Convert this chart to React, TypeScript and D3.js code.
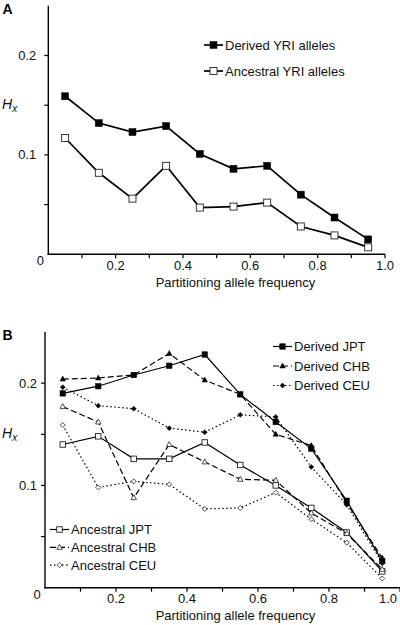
import React from "react";
import * as d3 from "d3";

// ---- Data ----
const xBins = [0.05, 0.15, 0.25, 0.35, 0.45, 0.55, 0.65, 0.75, 0.85, 0.95];
const xTicks = [0.1, 0.2, 0.3, 0.4, 0.5, 0.6, 0.7, 0.8, 0.9, 1.0];
const xTickLabels = ["", "0.2", "", "0.4", "", "0.6", "", "0.8", "", "1.0"];
const yTicks = [0.05, 0.1, 0.15, 0.2];
const yTickLabels = ["", "0.1", "", "0.2"];

// Panel A
const derivedYRI = [0.159, 0.132, 0.123, 0.129, 0.101, 0.086, 0.089, 0.060, 0.037, 0.015];
const ancestralYRI = [0.117, 0.082, 0.056, 0.089, 0.047, 0.048, 0.052, 0.028, 0.019, 0.007];

// Panel B
const derivedJPT = [0.190, 0.197, 0.208, 0.217, 0.228, 0.189, 0.162, 0.136, 0.085, 0.026];
const derivedCHB = [0.204, 0.205, 0.208, 0.229, 0.203, 0.189, 0.150, 0.139, 0.083, 0.029];
const derivedCEU = [0.196, 0.178, 0.175, 0.156, 0.152, 0.169, 0.167, 0.118, 0.081, 0.024];
const ancestralJPT = [0.140, 0.148, 0.126, 0.126, 0.142, 0.120, 0.100, 0.078, 0.054, 0.016];
const ancestralCHB = [0.177, 0.162, 0.088, 0.140, 0.123, 0.106, 0.105, 0.073, 0.053, 0.018];
const ancestralCEU = [0.159, 0.098, 0.104, 0.101, 0.077, 0.078, 0.093, 0.067, 0.044, 0.009];

const FONT = "'Liberation Sans', Arial, sans-serif";

type Marker = "square" | "triangle" | "diamond";

function MarkerShape({ type, x, y, size, filled }: { type: Marker; x: number; y: number; size: number; filled: boolean }) {
  const fill = filled ? "#000" : "#fff";
  const stroke = filled ? "#000" : "#222";
  if (type === "square") {
    return <rect x={x - size / 2} y={y - size / 2} width={size} height={size} fill={fill} stroke={stroke} strokeWidth={filled ? 0.5 : 0.9} />;
  }
  if (type === "triangle") {
    const h = size * 0.9;
    const p = `${x},${y - h * 0.6} ${x + size / 2},${y + h * 0.4} ${x - size / 2},${y + h * 0.4}`;
    return <polygon points={p} fill={fill} stroke={stroke} strokeWidth={filled ? 0.5 : 0.8} />;
  }
  const r = size / 2;
  const p = `${x},${y - r} ${x + r},${y} ${x},${y + r} ${x - r},${y}`;
  return <polygon points={p} fill={fill} stroke={stroke} strokeWidth={filled ? 0.5 : 0.8} />;
}

interface Series {
  name: string;
  values: number[];
  marker: Marker;
  filled: boolean;
  dash: string | undefined;
}

function Panel({
  letter,
  x0, x1, yTop, yBottom,
  series, markerSize, lineWidth,
  legends,
  labelGap,
  lastLabelMax,
}: {
  letter: string;
  x0: number; x1: number; yTop: number; yBottom: number;
  series: Series[];
  markerSize: number;
  lineWidth: number;
  legends: { x: number; y: number; dy: number; items: Series[] }[];
  labelGap: number;
  lastLabelMax: number;
}) {
  const x = d3.scaleLinear().domain([0, 1]).range([x0, x1]);
  const y = d3.scaleLinear().domain([0, 0.25]).range([yBottom, yTop]);
  const line = d3.line<number>().x((_, i) => x(xBins[i])).y((d) => y(d));
  return (
    <g fontFamily={FONT}>
      {/* axes */}
      <line x1={x(0)} x2={x(0)} y1={y(0.25)} y2={y(0) + 0.7} stroke="#000" strokeWidth={1.4} />
      <line x1={x(0) - 0.7} x2={x(1)} y1={y(0)} y2={y(0)} stroke="#000" strokeWidth={1.4} />
      {yTicks.map((t, i) => (
        <g key={"yt" + i}>
          <line x1={x(0) - 4} x2={x(0)} y1={y(t)} y2={y(t)} stroke="#000" strokeWidth={1.2} />
          {yTickLabels[i] && (
            <text x={x(0) - labelGap} y={y(t) + 4.5} fontSize={13} textAnchor="end" fill="#111">{yTickLabels[i]}</text>
          )}
        </g>
      ))}
      {xTicks.map((t, i) => (
        <g key={"xt" + i}>
          <line x1={x(t)} x2={x(t)} y1={y(0)} y2={y(0) + 4} stroke="#000" strokeWidth={1.2} />
          {xTickLabels[i] && (
            <text x={Math.min(x(t), lastLabelMax)} y={y(0) + 15.5} fontSize={13} textAnchor="middle" fill="#111">{xTickLabels[i]}</text>
          )}
        </g>
      ))}
      <text x={x(0) - 8} y={y(0) + 11} fontSize={13} textAnchor="middle" fill="#111">0</text>
      <text x={235.5} y={y(0) + 32.5} fontSize={13} textAnchor="middle" fill="#111">Partitioning allele frequency</text>
      <text x={2.5} y={y(0.25) + 8} fontSize={14} fontWeight="bold" fill="#000">{letter}</text>
      <text x={2} y={y(0.15) + 4} fontSize={14} fontStyle="italic" fill="#111">
        H<tspan fontSize={10} dy={3} fontStyle="italic">x</tspan>
      </text>
      {/* series */}
      {series.map((s) => (
        <g key={s.name}>
          <path d={line(s.values) || ""} fill="none" stroke="#000" strokeWidth={lineWidth} strokeDasharray={s.dash} />
          {s.values.map((v, i) => (
            <MarkerShape key={i} type={s.marker} x={x(xBins[i])} y={y(v)} size={s.marker === "diamond" ? markerSize - 0.5 : markerSize} filled={s.filled} />
          ))}
        </g>
      ))}
      {/* legends */}
      {legends.map((lg, li) => (
        <g key={"lg" + li}>
          {lg.items.map((s, i) => {
            const yy = lg.y + i * lg.dy;
            return (
              <g key={s.name}>
                <line x1={lg.x} x2={lg.x + 19} y1={yy} y2={yy} stroke="#000" strokeWidth={lineWidth} strokeDasharray={s.dash} />
                <MarkerShape type={s.marker} x={lg.x + 9.5} y={yy} size={s.marker === "diamond" ? markerSize - 0.5 : markerSize} filled={s.filled} />
                <text x={lg.x + 21} y={yy + 4.5} fontSize={13} fill="#111">{s.name}</text>
              </g>
            );
          })}
        </g>
      ))}
    </g>
  );
}

export default function App() {
  const seriesA: Series[] = [
    { name: "Derived YRI alleles", values: derivedYRI, marker: "square", filled: true, dash: undefined },
    { name: "Ancestral YRI alleles", values: ancestralYRI, marker: "square", filled: false, dash: undefined },
  ];
  const dJPT: Series = { name: "Derived JPT", values: derivedJPT, marker: "square", filled: true, dash: undefined };
  const dCHB: Series = { name: "Derived CHB", values: derivedCHB, marker: "triangle", filled: true, dash: "6,3" };
  const dCEU: Series = { name: "Derived CEU", values: derivedCEU, marker: "diamond", filled: true, dash: "1.5,2.5" };
  const aJPT: Series = { name: "Ancestral JPT", values: ancestralJPT, marker: "square", filled: false, dash: undefined };
  const aCHB: Series = { name: "Ancestral CHB", values: ancestralCHB, marker: "triangle", filled: false, dash: "6,3" };
  const aCEU: Series = { name: "Ancestral CEU", values: ancestralCEU, marker: "diamond", filled: false, dash: "1.5,2.5" };

  return (
    <svg width={400} height={625} style={{ position: "absolute", left: 0, top: 0, background: "#fff" }}>
      <rect width={400} height={625} fill="#fff" />
      <Panel
        letter="A"
        x0={48.3} x1={385} yTop={5.8} yBottom={254.3}
        series={seriesA}
        markerSize={7}
        lineWidth={1.7}
        legends={[{ x: 204, y: 45, dy: 26, items: seriesA }]}
        labelGap={12}
        lastLabelMax={386}
      />
      <Panel
        letter="B"
        x0={45} x1={400} yTop={332} yBottom={587.7}
        series={[dJPT, dCHB, dCEU, aJPT, aCHB, aCEU]}
        markerSize={5.5}
        lineWidth={1.2}
        legends={[
          { x: 273, y: 346.5, dy: 19.5, items: [dJPT, dCHB, dCEU] },
          { x: 50, y: 529.5, dy: 17.8, items: [aJPT, aCHB, aCEU] },
        ]}
        labelGap={8}
        lastLabelMax={388}
      />
    </svg>
  );
}
